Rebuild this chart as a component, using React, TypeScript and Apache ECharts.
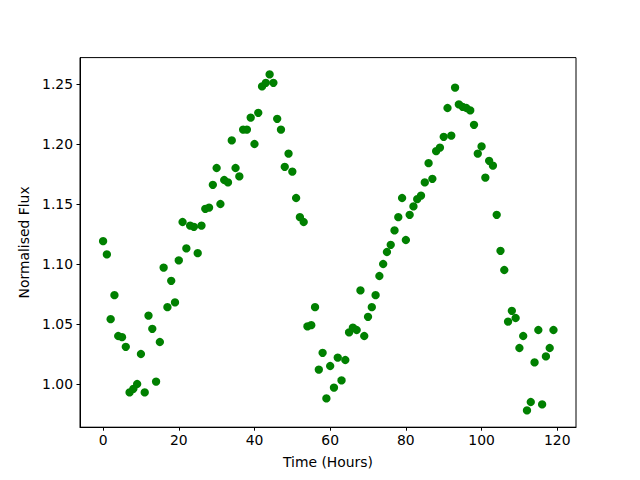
import React, { useEffect, useRef } from "react";
import * as echarts from "echarts";

const hours = [
  0, 1, 2, 3, 4, 5, 6, 7, 8, 9,
  10, 11, 12, 13, 14, 15, 16, 17, 18, 19,
  20, 21, 22, 23, 24, 25, 26, 27, 28, 29,
  30, 31, 32, 33, 34, 35, 36, 37, 38, 39,
  40, 41, 42, 43, 44, 45, 46, 47, 48, 49,
  50, 51, 52, 53, 54, 55, 56, 57, 58, 59,
  60, 61, 62, 63, 64, 65, 66, 67, 68, 69,
  70, 71, 72, 73, 74, 75, 76, 77, 78, 79,
  80, 81, 82, 83, 84, 85, 86, 87, 88, 89,
  90, 91, 92, 93, 94, 95, 96, 97, 98, 99,
  100, 101, 102, 103, 104, 105, 106, 107, 108, 109,
  110, 111, 112, 113, 114, 115, 116, 117, 118, 119,
];

const flux = [
  1.119, 1.108, 1.054, 1.074, 1.040, 1.039, 1.031, 0.993, 0.996, 1.000,
  1.025, 0.993, 1.057, 1.046, 1.002, 1.035, 1.097, 1.064, 1.086, 1.068,
  1.103, 1.135, 1.113, 1.132, 1.131, 1.109, 1.132, 1.146, 1.147, 1.166,
  1.180, 1.150, 1.170, 1.168, 1.203, 1.180, 1.173, 1.212, 1.212, 1.222,
  1.200, 1.226, 1.248, 1.251, 1.258, 1.251, 1.221, 1.212, 1.181, 1.192,
  1.177, 1.155, 1.139, 1.135, 1.048, 1.049, 1.064, 1.012, 1.026, 0.988,
  1.015, 0.997, 1.022, 1.003, 1.020, 1.043, 1.047, 1.045, 1.078, 1.040,
  1.056, 1.064, 1.074, 1.090, 1.100, 1.110, 1.116, 1.128, 1.139, 1.155,
  1.120, 1.141, 1.148, 1.154, 1.157, 1.168, 1.184, 1.171, 1.194, 1.197,
  1.206, 1.230, 1.207, 1.247, 1.233, 1.231, 1.230, 1.228, 1.216, 1.192,
  1.198, 1.172, 1.186, 1.182, 1.141, 1.111, 1.095, 1.052, 1.061, 1.055,
  1.030, 1.040, 0.978, 0.985, 1.018, 1.045, 0.983, 1.023, 1.030, 1.045,
];

const xTicks = [0, 20, 40, 60, 80, 100, 120];
const yTicks = [1.0, 1.05, 1.1, 1.15, 1.2, 1.25];

const FONT = "DejaVu Sans";

export default function App() {
  const ref = useRef<HTMLDivElement>(null);

  useEffect(() => {
    if (!ref.current) return;
    const chart = echarts.init(ref.current, null, { renderer: "svg" });
    const points = hours.map((h, i) => [h, flux[i]]);
    chart.setOption({
      animation: false,
      backgroundColor: "#ffffff",
      textStyle: { fontFamily: FONT },
      grid: {
        left: 80,
        right: 64,
        top: 57.6,
        bottom: 52.8,
        show: true,
        borderColor: "#000000",
        borderWidth: 1,
        backgroundColor: "transparent",
      },
      xAxis: {
        type: "value",
        min: -6.1,
        max: 124.95,
        name: "Time (Hours)",
        nameLocation: "middle",
        nameGap: 28,
        nameTextStyle: { color: "#000", fontSize: 13.9, fontFamily: FONT, verticalAlign: "top" },
        axisLine: { show: true, onZero: false, lineStyle: { color: "#000", width: 1 } },
        axisTick: { show: true, length: 3.5, inside: false, customValues: xTicks, lineStyle: { color: "#000", width: 1 } },
        axisLabel: {
          show: true,
          customValues: xTicks,
          margin: 6,
          color: "#000",
          fontSize: 13.9,
          fontFamily: FONT,
          formatter: (v: number) => String(Math.round(v)),
        },
        splitLine: { show: false },
      },
      yAxis: {
        type: "value",
        min: 0.964,
        max: 1.272,
        name: "Normalised Flux",
        nameLocation: "middle",
        nameGap: 46,
        nameRotate: 90,
        nameTextStyle: { color: "#000", fontSize: 13.9, fontFamily: FONT },
        axisLine: { show: true, onZero: false, lineStyle: { color: "#000", width: 1 } },
        axisTick: { show: true, length: 3.5, inside: false, customValues: yTicks, lineStyle: { color: "#000", width: 1 } },
        axisLabel: {
          show: true,
          customValues: yTicks,
          margin: 7,
          color: "#000",
          fontSize: 13.9,
          fontFamily: FONT,
          formatter: (v: number) => v.toFixed(2),
        },
        splitLine: { show: false },
      },
      series: [
        {
          type: "scatter",
          data: points,
          symbol: "circle",
          symbolSize: 8.3,
          itemStyle: { color: "#008000", opacity: 1 },
          emphasis: { disabled: true },
        },
      ],
    });
    return () => chart.dispose();
  }, []);

  return (
    <div
      ref={ref}
      style={{ position: "absolute", left: 0, top: 0, width: 640, height: 480, background: "#fff" }}
    />
  );
}
